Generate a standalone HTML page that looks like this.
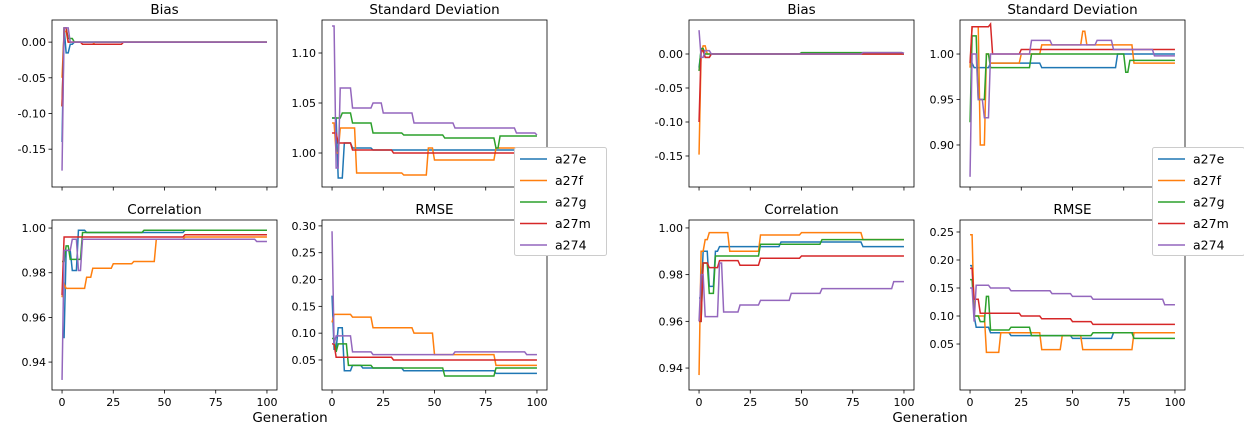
<!DOCTYPE html>
<html><head><meta charset="utf-8"><style>
body{margin:0;background:#fff;}
svg text{font-family:"DejaVu Sans","Liberation Sans",sans-serif;fill:#000;}
</style></head><body>
<svg id="fig" width="1244" height="423" xmlns="http://www.w3.org/2000/svg"></svg>
<script>
const seriesNames = ['a27e','a27f','a27g','a27m','a274'];
const colors = ['#1f77b4','#ff7f0e','#2ca02c','#d62728','#9467bd'];
const xTicks = [0,25,50,75,100];
// step knots [generation, value]: value holds until next knot
const lBias = [
 [[0,-0.14],[1,0.02],[2,-0.015],[4,-0.003],[6,0.0],[100,0.0]],
 [[0,-0.05],[1,0.015],[3,0.0],[10,-0.003],[16,0.0],[100,0.0]],
 [[0,-0.09],[1,0.02],[3,0.005],[6,0.0],[100,0.0]],
 [[0,-0.09],[1,0.02],[3,0.0],[10,-0.003],[30,0.0],[100,0.0]],
 [[0,-0.18],[1,0.02],[2,0.02],[4,0.0],[100,0.0]]];
const lSD = [
 [[0,1.035],[3,0.975],[6,1.01],[10,1.005],[20,1.003],[100,1.003]],
 [[0,1.03],[2,1.0],[4,1.025],[12,0.98],[35,0.978],[47,1.005],[50,0.993],[80,1.005],[100,1.005]],
 [[0,1.035],[5,1.04],[10,1.03],[20,1.02],[35,1.018],[55,1.015],[80,1.005],[82,1.017],[100,1.017]],
 [[0,1.02],[3,1.01],[10,1.003],[30,1.0],[100,1.0]],
 [[0,1.127],[2,0.985],[4,1.065],[10,1.045],[20,1.05],[25,1.04],[40,1.03],[60,1.025],[90,1.02],[100,1.018]]];
const lCorr = [
 [[0,0.951],[2,0.99],[5,0.981],[8,0.999],[12,0.998],[60,0.999],[100,0.999]],
 [[0,0.969],[1,0.975],[2,0.973],[12,0.978],[15,0.982],[25,0.984],[35,0.985],[46,0.995],[60,0.996],[100,0.996]],
 [[0,0.985],[2,0.992],[4,0.986],[10,0.998],[40,0.999],[100,0.999]],
 [[0,0.97],[1,0.996],[60,0.997],[100,0.997]],
 [[0,0.932],[1,0.99],[5,0.995],[8,0.981],[10,0.995],[95,0.994],[100,0.994]]];
const lRMSE = [
 [[0,0.17],[1,0.07],[3,0.11],[6,0.03],[10,0.04],[15,0.035],[35,0.03],[80,0.025],[100,0.025]],
 [[0,0.12],[1,0.135],[10,0.13],[20,0.11],[40,0.1],[50,0.06],[80,0.04],[100,0.04]],
 [[0,0.09],[2,0.065],[3,0.08],[8,0.04],[20,0.035],[55,0.02],[80,0.035],[100,0.035]],
 [[0,0.08],[2,0.055],[30,0.05],[100,0.05]],
 [[0,0.29],[1,0.08],[2,0.095],[10,0.065],[20,0.06],[60,0.065],[95,0.06],[100,0.06]]];
const rBias = [
 [[0,-0.02],[1,0.005],[3,-0.005],[6,0.0],[100,0.0]],
 [[0,-0.148],[1,0.0],[2,0.012],[4,0.0],[100,0.0]],
 [[0,-0.025],[1,0.008],[3,0.0],[50,0.002],[100,0.001]],
 [[0,-0.1],[1,0.005],[3,-0.005],[6,0.0],[100,0.0]],
 [[0,0.035],[1,-0.005],[3,0.005],[6,0.0],[80,0.002],[100,0.001]]];
const rSD = [
 [[0,0.99],[2,0.985],[10,0.99],[35,0.985],[72,1.0],[100,1.0]],
 [[0,0.985],[1,1.03],[5,0.9],[8,1.0],[10,0.99],[25,1.0],[35,1.01],[55,1.025],[57,1.01],[80,0.99],[100,0.99]],
 [[0,0.925],[1,1.02],[4,0.95],[8,1.0],[10,0.985],[30,1.0],[76,0.98],[78,0.993],[100,0.993]],
 [[0,0.99],[1,1.03],[10,1.033],[11,1.0],[25,1.005],[100,1.005]],
 [[0,0.865],[1,1.0],[4,0.95],[7,0.93],[10,1.0],[30,1.015],[40,1.01],[62,1.015],[70,1.005],[90,0.998],[100,0.998]]];
const rCorr = [
 [[0,0.97],[2,0.99],[5,0.975],[8,0.99],[10,0.992],[40,0.994],[80,0.992],[100,0.992]],
 [[0,0.937],[1,0.99],[3,0.995],[5,0.998],[15,0.99],[30,0.997],[50,0.998],[80,0.995],[100,0.995]],
 [[0,0.96],[2,0.985],[5,0.972],[8,0.988],[30,0.993],[60,0.995],[100,0.995]],
 [[0,0.96],[2,0.985],[5,0.983],[10,0.986],[20,0.984],[30,0.987],[50,0.988],[100,0.988]],
 [[0,0.96],[1,0.98],[3,0.962],[10,0.985],[12,0.964],[20,0.967],[30,0.969],[45,0.972],[60,0.974],[95,0.977],[100,0.977]]];
const rRMSE = [
 [[0,0.19],[2,0.1],[3,0.08],[10,0.07],[20,0.065],[50,0.06],[70,0.07],[100,0.07]],
 [[0,0.245],[2,0.1],[8,0.035],[15,0.07],[35,0.04],[45,0.065],[55,0.04],[80,0.07],[100,0.07]],
 [[0,0.165],[2,0.1],[5,0.09],[8,0.135],[10,0.075],[20,0.08],[30,0.065],[60,0.07],[80,0.06],[100,0.06]],
 [[0,0.185],[2,0.13],[5,0.105],[25,0.1],[35,0.095],[50,0.09],[60,0.085],[100,0.085]],
 [[0,0.15],[2,0.09],[3,0.155],[10,0.15],[20,0.145],[40,0.14],[50,0.135],[60,0.13],[95,0.12],[100,0.12]]];
const lBiasTicks=['0.00','-0.05','-0.10','-0.15'];
const lSDTicks=['1.10','1.05','1.00'];
const corrTicks=['1.00','0.98','0.96','0.94'];
const lRMSETicks=['0.30','0.25','0.20','0.15','0.10','0.05'];
const rBiasTicks=['0.00','-0.05','-0.10','-0.15'];
const rSDTicks=['1.00','0.95','0.90'];
const rRMSETicks=['0.25','0.20','0.15','0.10','0.05'];

const NS='http://www.w3.org/2000/svg';
const svg=document.getElementById('fig');
function mk(tag,attrs,parent){const e=document.createElementNS(NS,tag);for(const k in attrs)e.setAttribute(k,attrs[k]);(parent||svg).appendChild(e);return e;}

const panels=[
 {name:'left-bias',title:'Bias',x:52,y:20,w:225,h:167,dom:[-0.203,0.031],data:lBias,ticks:lBiasTicks,xl:false},
 {name:'left-std',title:'Standard Deviation',x:322,y:20,w:225,h:167,dom:[0.966,1.133],data:lSD,ticks:lSDTicks,xl:false},
 {name:'left-corr',title:'Correlation',x:52,y:220,w:225,h:170,dom:[0.9275,1.0036],data:lCorr,ticks:corrTicks,xl:true},
 {name:'left-rmse',title:'RMSE',x:322,y:220,w:225,h:170,dom:[-0.006,0.311],data:lRMSE,ticks:lRMSETicks,xl:true},
 {name:'right-bias',title:'Bias',x:689,y:20,w:225,h:167,dom:[-0.1956,0.05],data:rBias,ticks:rBiasTicks,xl:false},
 {name:'right-std',title:'Standard Deviation',x:960,y:20,w:225,h:167,dom:[0.8538,1.0374],data:rSD,ticks:rSDTicks,xl:false},
 {name:'right-corr',title:'Correlation',x:689,y:220,w:225,h:170,dom:[0.9306,1.0034],data:rCorr,ticks:corrTicks,xl:true},
 {name:'right-rmse',title:'RMSE',x:960,y:220,w:225,h:170,dom:[-0.0321,0.2714],data:rRMSE,ticks:rRMSETicks,xl:true}];

panels.forEach(p=>{
 const g=mk('g',{});
 
 
 const xs=v=>p.x+(v+4.9)/109.8*p.w;
 const ys=v=>p.y+p.h-(v-p.dom[0])/(p.dom[1]-p.dom[0])*p.h;
 const t=mk('text',{x:p.x+p.w/2,y:p.y-6,'text-anchor':'middle','font-size':13.5},g);
 t.textContent=p.title;
 
 
 p.data.forEach((s,i)=>{
  let pts=[];
  for(let k=0;k<s.length;k++){
   pts.push(xs(s[k][0])+','+ys(s[k][1]));
   if(k<s.length-1 && s[k+1][0]-1>s[k][0]) pts.push(xs(s[k+1][0]-1)+','+ys(s[k][1]));
  }
  const pl=mk('polyline',{points:pts.join(' '),fill:'none',stroke:colors[i],'stroke-width':1.5},g);
  
  
 });
 const box=mk('rect',{x:p.x,y:p.y,width:p.w,height:p.h,fill:'none',stroke:'#000','stroke-width':0.8},g);
 
 
 xTicks.forEach(v=>{
  mk('line',{x1:xs(v),x2:xs(v),y1:p.y+p.h,y2:p.y+p.h+3.5,stroke:'#000','stroke-width':0.8},g);
  if(p.xl){const tt=mk('text',{x:xs(v),y:p.y+p.h+16,'text-anchor':'middle','font-size':11},g);tt.textContent=v;
   
   }
 });
 p.ticks.forEach(s=>{
  const v=parseFloat(s),yy=ys(v);
  mk('line',{x1:p.x-3.5,x2:p.x,y1:yy,y2:yy,stroke:'#000','stroke-width':0.8},g);
  const tt=mk('text',{x:p.x-6,y:yy+4,'text-anchor':'end','font-size':11},g);tt.textContent=s;
  
  
 });
});
[[290,'left'],[930,'right']].forEach(([x,n])=>{
 const t=mk('text',{x:x,y:422,'text-anchor':'middle','font-size':13.5});t.textContent='Generation';
 
 
});
[[514,'left'],[1152,'right']].forEach(([x,n])=>{
 const g=mk('g',{});
 
 
 mk('rect',{x:x+0.5,y:147.5,width:92,height:108,rx:2,fill:'#fff',stroke:'#ccc'},g);
 seriesNames.forEach((s,i)=>{
  const yy=159+i*21.5;
  mk('line',{x1:x+6,x2:x+33,y1:yy,y2:yy,stroke:colors[i],'stroke-width':1.5},g);
  const t=mk('text',{x:x+41,y:yy+4.5,'font-size':12.5},g);t.textContent=s;
  
  
 });
});
</script>
</body></html>
